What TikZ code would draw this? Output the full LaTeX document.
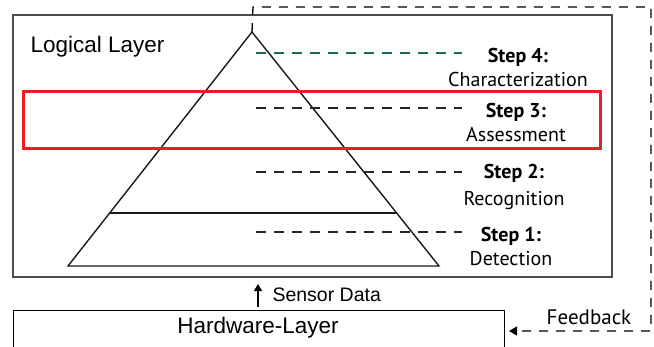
\documentclass[tikz,border=0pt]{standalone}
\usepackage{fontspec}
\setmainfont{Liberation Sans}
\newfontfamily\stepfont{PT Sans}
\usetikzlibrary{arrows.meta}
\definecolor{stepgreen}{RGB}{25,110,70}
\definecolor{markred}{RGB}{237,28,36}
\begin{document}
\begin{tikzpicture}[x=1pt,y=-1pt]
        \tikzstyle{layerbox}=[draw=black!70,line width=1.2pt]
        \tikzstyle{pyramid}=[draw=black!90,line width=1.4pt]
        \tikzstyle{stepline}=[line width=1.2pt,dash pattern=on 10pt off 8pt]
        \tikzstyle{steplabel}=[align=center,font=\stepfont\fontsize{20}{24}\selectfont]
        \tikzstyle{feedback}=[line width=1.3pt,dash pattern=on 9pt off 8pt]
       \useasboundingbox (0,0) rectangle (654,346);
       \begin{scope}
         % logical layer
         \draw[layerbox] (13,15) rectangle (612,277);
         \node[anchor=west,font=\fontsize{22.5}{26}\selectfont] (logic) at (27,47) {Logical Layer};
         \coordinate (apex) at (252,32);
         \coordinate (bl) at (68,266);
         \coordinate (br) at (439,266);
         \draw[pyramid] (bl) -- (apex) -- (br) -- cycle;
         \draw[pyramid] (110,213) -- (397,213);
         % steps
         \node[steplabel] (s4) at (518,67) {\textbf{Step 4:}\\Characterization};
         \node[steplabel] (s3) at (516,122) {\textbf{Step 3:}\\Assessment};
         \node[steplabel] (s2) at (514,187) {\textbf{Step 2:}\\[3pt]Recognition};
         \node[steplabel] (s1) at (511,246) {\textbf{Step 1:}\\Detection};
         \draw[stepline,stepgreen] (256,53) -- (462,53);
         \draw[stepline,black!85] (256,108) -- (462,108);
         \draw[stepline,black!85] (256,172) -- (462,172);
         \draw[stepline,black!85] (256,232) -- (462,232);
         \draw[markred,line width=3pt] (23,91) rectangle (600,148);
         % hardware layer
         \node[draw,line width=1.2pt,minimum width=491pt,minimum height=44pt,anchor=north west,
               inner sep=0pt] (hw) at (13,310) {};
         \node[font=\fontsize{22.5}{26}\selectfont] (hwtext) at (258,328) {Hardware-Layer};
         \coordinate (sensortop) at (258,284);
         \draw[-{Triangle[length=7pt,width=8pt]},line width=1.4pt] (258,307) -- (sensortop);
         \node[anchor=west,font=\fontsize{19.5}{22}\selectfont] (sensor) at (269,295) {Sensor Data};
         % feedback
         \coordinate (f1) at (253,7);
         \coordinate (f2) at (651,7);
         \coordinate (f3) at (651,331);
         \coordinate (f4) at (509,331);
         \draw[feedback,-{Triangle[length=8pt,width=9pt]}] (apex) -- (f1) -- (f2) -- (f3) -- (f4);
         \node[anchor=south,font=\stepfont\fontsize{21}{24}\selectfont] (fb) at (589,328) {Feedback};
        \end{scope}
      \end{tikzpicture}
\end{document}
